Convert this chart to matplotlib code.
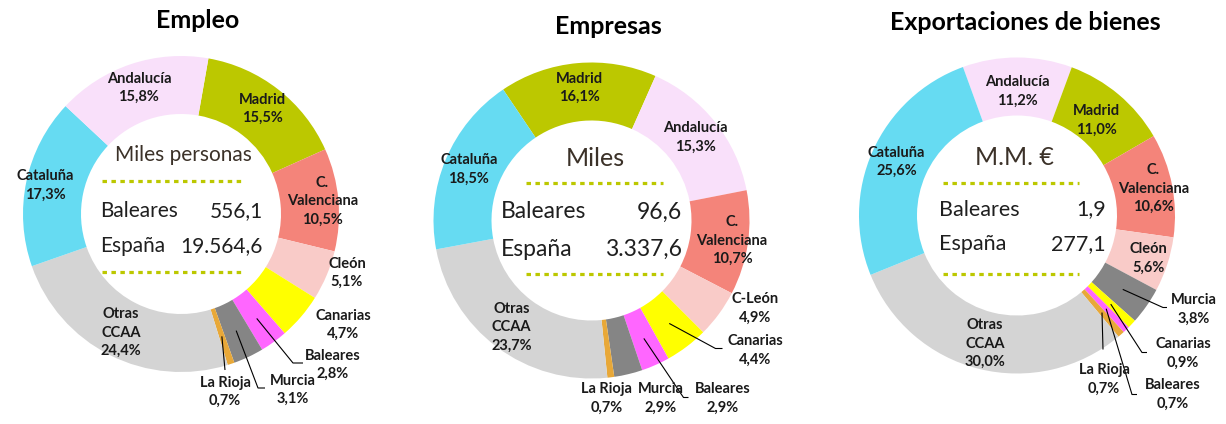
import math
import matplotlib
matplotlib.use("Agg")
import matplotlib.pyplot as plt

W, H = 1226, 424

# ---------------- data ----------------
empleo_regions = ['Madrid', 'C. Valenciana', 'Cleón', 'Canarias', 'Baleares',
                  'Murcia', 'La Rioja', 'Otras CCAA', 'Cataluña', 'Andalucía']
empleo_values = [15.5, 10.5, 5.1, 4.7, 2.8, 3.1, 0.7, 24.4, 17.3, 15.8]
empleo_unit = 'Miles personas'
empleo_baleares = '556,1'
empleo_espana = '19.564,6'

empresas_regions = ['Madrid', 'Andalucía', 'C. Valenciana', 'C-León', 'Canarias',
                    'Baleares', 'Murcia', 'La Rioja', 'Otras CCAA', 'Cataluña']
empresas_values = [16.1, 15.3, 10.7, 4.9, 4.4, 2.9, 2.9, 0.7, 23.7, 18.5]
empresas_unit = 'Miles'
empresas_baleares = '96,6'
empresas_espana = '3.337,6'

export_regions = ['Andalucía', 'Madrid', 'C. Valenciana', 'Cleón', 'Murcia',
                  'Canarias', 'Baleares', 'La Rioja', 'Otras CCAA', 'Cataluña']
export_values = [11.2, 11.0, 10.6, 5.6, 3.8, 0.9, 0.7, 0.7, 30.0, 25.6]
export_unit = 'M.M. €'
export_baleares = '1,9'
export_espana = '277,1'

titles = ['Empleo', 'Empresas', 'Exportaciones de bienes']

# ---------------- styles ----------------
colors = {
    'Madrid': '#BCC800',
    'Andalucía': '#F9E0FA',
    'Cataluña': '#66DBF2',
    'C. Valenciana': '#F4847A',
    'Cleón': '#F9CBC8',
    'C-León': '#F9CBC8',
    'Canarias': '#FFFF00',
    'Baleares': '#FF66FF',
    'Murcia': '#858585',
    'La Rioja': '#E8A838',
    'Otras CCAA': '#D4D4D4',
}
display = {'C. Valenciana': 'C.\nValenciana', 'Otras CCAA': 'Otras\nCCAA'}

OLIVE = '#BCC800'
FONT = 'Lato'

# layout (image px, relative to chart centre, y down)
charts = [
    dict(regions=empleo_regions, values=empleo_values, unit=empleo_unit,
         bal=empleo_baleares, esp=empleo_espana, title=titles[0],
         c=(181, 214), start=10, r_in=133, title_xy=(198, 21),
         unit_xy=(2, -59), unit_fs=15, dots_y=(-33, 58), dots_x=(-79, 64),
         rows_x=(-81, 82), rows_y=(-3, 32), rows_fs=15,
         out={
             'Cleón': dict(text=(166, 59)),
             'Canarias': dict(text=(162, 111)),
             'Baleares': dict(text=(152, 151), elbow=(112, 149), end=(122, 149)),
             'Murcia': dict(text=(112, 176), elbow=(77, 174), end=(84, 174)),
             'La Rioja': dict(text=(44, 178), elbow=(44, 156), end=(44, 156)),
         }, rin={'C. Valenciana': 142, 'Cataluña': 139}),
    dict(regions=empresas_regions, values=empresas_values, unit=empresas_unit,
         bal=empresas_baleares, esp=empresas_espana, title=titles[1],
         c=(591.5, 220.5), start=-34, r_in=133, title_xy=(608, 27),
         unit_xy=(3.5, -62.5), unit_fs=18, dots_y=(-37.5, 53.5), dots_x=(-65.5, 71.5),
         rows_x=(-90.5, 90.5), rows_y=(-8.5, 28.5), rows_fs=16.5,
         out={
             'C-León': dict(text=(164, 88)),
             'Canarias': dict(text=(164, 130), elbow=(124, 128), end=(131, 128)),
             'Baleares': dict(text=(131, 178), elbow=(92, 177), end=(97, 177)),
             'Murcia': dict(text=(69, 178)),
             'La Rioja': dict(text=(15, 178)),
         }, rin={'C. Valenciana': 142}),
    dict(regions=export_regions, values=export_values, unit=export_unit,
         bal=export_baleares, esp=export_espana, title=titles[2],
         c=(1017, 215.5), start=-20, r_in=132, title_xy=(1025, 23),
         unit_xy=(-3, -58), unit_fs=18, dots_y=(-33, 58), dots_x=(-74, 62),
         rows_x=(-78, 89), rows_y=(-6, 29), rows_fs=15.5,
         out={
             'Murcia': dict(text=(177, 94), elbow=(146, 92), end=(150, 92)),
             'Canarias': dict(text=(166, 138), elbow=(125, 137), end=(130, 137)),
             'Baleares': dict(text=(156, 179), elbow=(115, 179), end=(120, 179)),
             'La Rioja': dict(text=(87, 164), elbow=(86, 134), end=(86, 134)),
         }, rin={'Andalucía': 124, 'Madrid': 124, 'C. Valenciana': 139, 'Cleón': 138}),
]

R_OUT, R_IN = 158, 100
LABEL_FS = 10.5

fig = plt.figure(figsize=(W / 100, H / 100), dpi=100)
ax = fig.add_axes([0, 0, 1, 1])


def P(cx, cy, dx, dy):
    """image-relative offset -> data coordinates"""
    return cx + dx, H - (cy + dy)


for ch in charts:
    cx, cy = ch['c']
    cols = [colors[r] for r in ch['regions']]
    wedges, _ = ax.pie(ch['values'], colors=cols, startangle=90 - ch['start'],
                       counterclock=False, radius=R_OUT, center=(cx, H - cy),
                       wedgeprops=dict(width=R_OUT - R_IN, linewidth=0),
                       frame=True)
    for reg, val, w in zip(ch['regions'], ch['values'], wedges):
        txt = display.get(reg, reg) + '\n' + f'{val:.1f}'.replace('.', ',') + '%'
        mid = math.radians((w.theta1 + w.theta2) / 2)
        if reg in ch['out']:
            o = ch['out'][reg]
            tx, ty = P(cx, cy, *o['text'])
            ax.text(tx, ty, txt, ha='center', va='center', fontsize=LABEL_FS,
                    fontweight='bold', family=FONT, color='#1a1a1a',
                    linespacing=1.4, multialignment='center', zorder=5)
            if 'elbow' in o:
                rs = (R_OUT + R_IN) / 2
                sx, sy = cx + rs * math.cos(mid), (H - cy) + rs * math.sin(mid)
                ex, ey = P(cx, cy, *o['elbow'])
                fx, fy = P(cx, cy, *o['end'])
                ax.plot([sx, ex, fx], [sy, ey, fy], color='black', lw=0.8,
                        zorder=4, solid_capstyle='butt')
        else:
            r = ch['rin'].get(reg, ch['r_in'])
            tx, ty = cx + r * math.cos(mid), (H - cy) + r * math.sin(mid)
            ax.text(tx, ty, txt, ha='center', va='center', fontsize=LABEL_FS,
                    fontweight='bold', family=FONT, color='#1a1a1a',
                    linespacing=1.4, multialignment='center', zorder=5)

    # title
    tx, ty = ch['title_xy']
    ax.text(tx, H - ty, ch['title'], ha='center', va='center', fontsize=18,
            fontweight='bold', family=FONT, color='black')

    # centre block
    ux, uy = P(cx, cy, *ch['unit_xy'])
    ax.text(ux, uy, ch['unit'], ha='center', va='center', fontsize=ch['unit_fs'],
            family=FONT, color='#3B3128')
    for dy in ch['dots_y']:
        x0, y0 = P(cx, cy, ch['dots_x'][0], dy)
        x1, _ = P(cx, cy, ch['dots_x'][1], dy)
        ax.plot([x0, x1], [y0, y0], color=OLIVE, lw=2.3,
                linestyle=(0, (1.4, 1.4)), dash_capstyle='butt')
    lx, rx = ch['rows_x']
    for name, valtxt, dy in zip(['Baleares', 'España'], [ch['bal'], ch['esp']],
                                ch['rows_y']):
        x0, y0 = P(cx, cy, lx, dy)
        x1, _ = P(cx, cy, rx, dy)
        ax.text(x0, y0, name, ha='left', va='center', fontsize=ch['rows_fs'],
                family=FONT, color='#1f1f1f')
        ax.text(x1, y0, valtxt, ha='right', va='center', fontsize=ch['rows_fs'],
                family=FONT, color='#1f1f1f')

ax.set_xlim(0, W)
ax.set_ylim(0, H)
ax.set_aspect('auto')
ax.axis('off')

fig.savefig('out.png', dpi=100, facecolor='white')
